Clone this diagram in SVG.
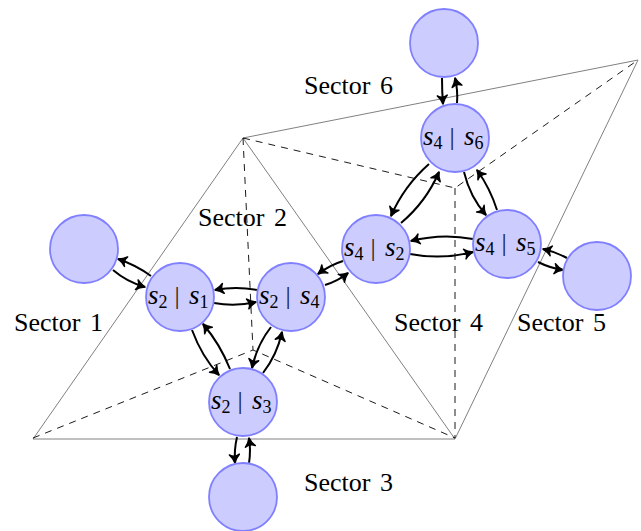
<svg xmlns="http://www.w3.org/2000/svg" width="641" height="531" viewBox="0 0 641 531">
<style>
.g{fill:none;stroke:#808080;stroke-width:1}
.d{fill:none;stroke:#000;stroke-width:.9;stroke-dasharray:7 6}
.a{fill:none;stroke:#000;stroke-width:2;marker-end:url(#h)}
circle{fill:#ccccff;stroke:#8080ff;stroke-width:1.8}
text{font-family:"Liberation Serif","Times New Roman",serif;fill:#000}
.s{font-size:26px;word-spacing:3px}
.m{font-size:27px;font-style:italic}
.b{font-size:18px;font-style:normal}
.r{font-style:normal;font-size:26px;fill:#222}
</style>
<defs>
<marker id="h" markerUnits="userSpaceOnUse" markerWidth="16" markerHeight="16" viewBox="-12 -8 16 16" refX="0" refY="0" orient="auto">
<path d="M-8.500,-5 C-6,-2.500 -3,-1 0,0 C-3,1 -6,2.500 -8.500,5 C-6.500,2 -6.500,-2 -8.500,-5Z" fill="#000" stroke="#000" stroke-width="1.500" stroke-linejoin="round"/>
</marker>
</defs>
<g id="lines">
<path class="g" d="M33,439H455L243,138ZM243,138L638,60L455,439"/>
<path class="d" d="M33,438L253,350L455,438M243,138L253,350M243,138L455,188L638,60M455,188V438"/>
</g>
<g id="connectors">
<path class="a" d="M113,270Q127,282 145,287"/>
<path class="a" d="M151,276Q136,265 118,259"/>
<path class="a" d="M214,303Q235,307 256,302"/>
<path class="a" d="M257,290Q236,286 215,290"/>
<path class="a" d="M192,330Q202,357 219,375"/>
<path class="a" d="M230,369Q220,344 203,324"/>
<path class="a" d="M271,327Q257,345 252,368"/>
<path class="a" d="M263,373Q277,355 282,332"/>
<path class="a" d="M237,437Q234,450 235,463"/>
<path class="a" d="M249,463Q251,450 249,438"/>
<path class="a" d="M343,261Q330,265 318,274"/>
<path class="a" d="M325,285Q338,281 348,273"/>
<path class="a" d="M401,223Q426,202 439,172"/>
<path class="a" d="M429,164Q404,186 391,216"/>
<path class="a" d="M464,172Q470,197 486,215"/>
<path class="a" d="M497,210Q490,188 477,170"/>
<path class="a" d="M473,239Q442,233 411,241"/>
<path class="a" d="M410,254Q442,260 473,252"/>
<path class="a" d="M538,262Q550,268 563,270"/>
<path class="a" d="M567,258Q556,252 543,249"/>
<path class="a" d="M442,78Q442,92 443,104"/>
<path class="a" d="M457,103Q458,90 455,78"/>
</g>
<g id="n-left"><circle cx="84" cy="249" r="34"/></g>
<g id="n-s2s1"><circle cx="180" cy="297" r="34"/><text class="m" y="304"><tspan x="148">s</tspan><tspan class="b" x="158.500" dy="4">2</tspan><tspan class="r" x="174.500" dy="-4">|</tspan><tspan x="189">s</tspan><tspan class="b" x="199.500" dy="4">1</tspan></text></g>
<g id="n-s2s4"><circle cx="291" cy="297" r="34"/><text class="m" y="304"><tspan x="259">s</tspan><tspan class="b" x="269.500" dy="4">2</tspan><tspan class="r" x="285.500" dy="-4">|</tspan><tspan x="300">s</tspan><tspan class="b" x="310.500" dy="4">4</tspan></text></g>
<g id="n-s2s3"><circle cx="243" cy="402" r="34"/><text class="m" y="409"><tspan x="211">s</tspan><tspan class="b" x="221.500" dy="4">2</tspan><tspan class="r" x="237.500" dy="-4">|</tspan><tspan x="252">s</tspan><tspan class="b" x="262.500" dy="4">3</tspan></text></g>
<g id="n-bottom"><circle cx="243" cy="497" r="34"/></g>
<g id="n-s4s2"><circle cx="376" cy="249" r="34"/><text class="m" y="256"><tspan x="344">s</tspan><tspan class="b" x="354.500" dy="4">4</tspan><tspan class="r" x="370.500" dy="-4">|</tspan><tspan x="385">s</tspan><tspan class="b" x="395.500" dy="4">2</tspan></text></g>
<g id="n-s4s5"><circle cx="507" cy="244" r="34"/><text class="m" y="251"><tspan x="475">s</tspan><tspan class="b" x="485.500" dy="4">4</tspan><tspan class="r" x="501.500" dy="-4">|</tspan><tspan x="516">s</tspan><tspan class="b" x="526.500" dy="4">5</tspan></text></g>
<g id="n-s4s6"><circle cx="455" cy="138" r="34"/><text class="m" y="145"><tspan x="423">s</tspan><tspan class="b" x="433.500" dy="4">4</tspan><tspan class="r" x="449.500" dy="-4">|</tspan><tspan x="464">s</tspan><tspan class="b" x="474.500" dy="4">6</tspan></text></g>
<g id="n-top"><circle cx="444" cy="43" r="34"/></g>
<g id="n-right"><circle cx="597" cy="276" r="34"/></g>
<g id="labels">
<text class="s" x="14" y="331">Sector 1</text>
<text class="s" x="198" y="226">Sector 2</text>
<text class="s" x="304" y="491">Sector 3</text>
<text class="s" x="394" y="331">Sector 4</text>
<text class="s" x="517" y="331">Sector 5</text>
<text class="s" x="304" y="94">Sector 6</text>
</g>
</svg>
